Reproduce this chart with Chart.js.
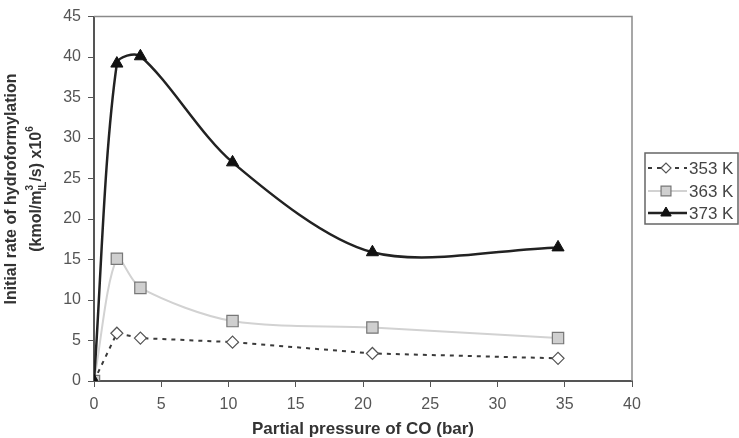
<!DOCTYPE html>
<html>
<head>
<meta charset="utf-8">
<script src="https://cdn.jsdelivr.net/npm/chart.js@4.4.1/dist/chart.umd.min.js"></script>
<style>
  html, body { margin: 0; padding: 0; background: #fff; }
  #wrap { width: 739px; height: 438px; }
</style>
</head>
<body>
<div id="wrap"><canvas id="rateChart" width="739" height="438"></canvas></div>
<script>
// partial pressure of CO (bar)
const pressure = [0, 1.7, 3.45, 10.3, 20.7, 34.5];
// initial rate of hydroformylation (kmol/m3 IL/s) x10^6
const rate353 = [0, 5.9, 5.3, 4.8, 3.4, 2.8];
const rate363 = [0, 15.1, 11.5, 7.4, 6.6, 5.3];
const rate373 = [0, 39.2, 40.1, 27.0, 15.9, 16.5];
const seriesNames = ['353 K', '363 K', '373 K'];

const FONT = '"Liberation Sans", Arial, sans-serif';

function toPoints(ys) {
    return pressure.map(function(p, i){ return {x: p, y: ys[i]}; });
}

// frame + y title with super/subscripts + boxed legend
const extras = {
    id: 'extras',
    afterDraw(chart) {
        const ctx = chart.ctx;
        const a = chart.chartArea;
        ctx.save();
        // top and right edge of plot frame
        ctx.strokeStyle = '#8a8a8a';
        ctx.lineWidth = 1.5;
        ctx.beginPath();
        ctx.moveTo(a.left, a.top);
        ctx.lineTo(a.right, a.top);
        ctx.lineTo(a.right, a.bottom);
        ctx.stroke();

        // y axis title
        const cy = 189;
        ctx.fillStyle = '#333';
        ctx.textBaseline = 'middle';
        ctx.textAlign = 'center';
        ctx.save();
        ctx.translate(12, cy);
        ctx.rotate(-Math.PI / 2);
        ctx.font = 'bold 16px ' + FONT;
        ctx.fillText('Initial rate of hydroformylation', 0, 0);
        ctx.restore();

        const parts = [
            {t: '(kmol/m', s: 0},
            {t: '3', s: -1, stack: 'IL'},
            {t: '/s) x10', s: 0},
            {t: '6', s: -1}
        ];
        const big = 'bold 16px ' + FONT, small = 'bold 10px ' + FONT;
        let total = 0;
        parts.forEach(function(p){
            ctx.font = p.s ? small : big;
            let w = ctx.measureText(p.t).width;
            if (p.stack) w = Math.max(w, ctx.measureText(p.stack).width);
            p.w = w;
            total += w;
        });
        ctx.save();
        ctx.translate(37, cy);
        ctx.rotate(-Math.PI / 2);
        ctx.textAlign = 'left';
        let x = -total / 2;
        parts.forEach(function(p){
            if (p.s) {
                ctx.font = small;
                ctx.fillText(p.t, x, -7);
                if (p.stack) ctx.fillText(p.stack, x, 6);
            } else {
                ctx.font = big;
                ctx.fillText(p.t, x, 0);
            }
            x += p.w;
        });
        ctx.restore();

        // legend box
        const lx = 645, ly = 153, lw = 93, lh = 71;
        ctx.strokeStyle = '#666';
        ctx.lineWidth = 1.5;
        ctx.strokeRect(lx, ly, lw, lh);
        const rows = [168, 191, 213];
        chart.data.datasets.forEach(function(ds, i){
            const y = rows[i];
            ctx.save();
            ctx.strokeStyle = ds.borderColor;
            ctx.lineWidth = ds.borderWidth;
            ctx.setLineDash(ds.borderDash || []);
            ctx.beginPath();
            ctx.moveTo(lx + 3, y);
            ctx.lineTo(lx + 42, y);
            ctx.stroke();
            ctx.setLineDash([]);
            ctx.fillStyle = ds.pointBackgroundColor;
            ctx.strokeStyle = ds.pointBorderColor;
            ctx.lineWidth = ds.pointBorderWidth;
            Chart.helpers.drawPoint(ctx, {
                pointStyle: ds.pointStyle, radius: ds.pointRadius - 1,
                rotation: 0, borderWidth: ds.pointBorderWidth
            }, lx + 21, y);
            ctx.restore();
            ctx.fillStyle = '#444';
            ctx.font = '17px ' + FONT;
            ctx.textAlign = 'left';
            ctx.textBaseline = 'middle';
            ctx.fillText(ds.label, lx + 44, y + 1);
        });
        ctx.restore();
    }
};

const chartData = {
    datasets: [
        {
            label: seriesNames[0],
            data: toPoints(rate353),
            order: 2,
            borderColor: '#3a3a3a',
            borderWidth: 2,
            borderDash: [4, 5],
            tension: 0,
            pointStyle: 'rectRot',
            pointRadius: 6,
            pointBackgroundColor: '#fff',
            pointBorderColor: '#555',
            pointBorderWidth: 1.2
        },
        {
            label: seriesNames[1],
            data: toPoints(rate363),
            order: 1,
            borderColor: '#d2d2d2',
            borderWidth: 2,
            tension: 0.3,
            pointStyle: 'rect',
            pointRadius: 8,
            pointBackgroundColor: '#cfcfcf',
            pointBorderColor: '#777',
            pointBorderWidth: 1.2
        },
        {
            label: seriesNames[2],
            data: toPoints(rate373),
            order: 0,
            borderColor: '#222',
            borderWidth: 2.5,
            tension: 0.3,
            pointStyle: 'triangle',
            pointRadius: 7,
            pointBackgroundColor: '#111',
            pointBorderColor: '#111',
            pointBorderWidth: 1
        }
    ]
};

new Chart(document.getElementById('rateChart').getContext('2d'), {
    type: 'line',
    data: chartData,
    plugins: [extras],
    options: {
        responsive: false,
        animation: false,
        layout: { padding: { top: 16, right: 107, left: 0, bottom: 0 } },
        plugins: { legend: { display: false }, tooltip: { enabled: false } },
        scales: {
            x: {
                type: 'linear',
                min: 0, max: 40,
                afterFit: function(s){ s.height = 57; },
                border: { color: '#555', width: 2 },
                grid: { drawOnChartArea: false, color: '#555', tickLength: 6 },
                ticks: { stepSize: 5, color: '#555', padding: 8, font: { family: FONT, size: 16 } },
                title: {
                    display: true, text: 'Partial pressure of CO (bar)', color: '#333',
                    padding: { top: 0, bottom: 0 },
                    font: { family: FONT, size: 17, weight: 'bold', lineHeight: 1.0 }
                }
            },
            y: {
                min: 0, max: 45,
                afterFit: function(s){ s.width = 94; },
                border: { color: '#555', width: 2 },
                grid: { drawOnChartArea: false, color: '#555', tickLength: 6 },
                ticks: { stepSize: 5, color: '#555', padding: 7, font: { family: FONT, size: 16 } }
            }
        }
    }
});
</script>
</body>
</html>
